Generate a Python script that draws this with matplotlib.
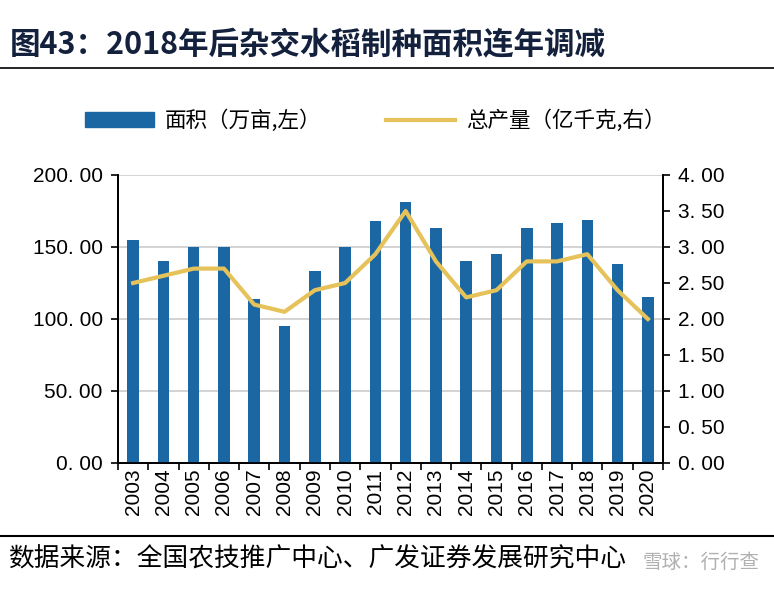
import numpy as np
import matplotlib
matplotlib.use("Agg")
from matplotlib import pyplot as plt
from matplotlib.lines import Line2D
from matplotlib.patches import Patch

plt.rcParams['font.family'] = ['Noto Sans CJK SC', 'DejaVu Sans']

years = ["2003", "2004", "2005", "2006", "2007", "2008", "2009", "2010", "2011",
         "2012", "2013", "2014", "2015", "2016", "2017", "2018", "2019", "2020"]
area = [155, 140, 150, 150, 114, 95, 133, 150, 168, 181, 163, 140, 145, 163, 167, 169, 138, 115]
output = [2.5, 2.6, 2.7, 2.7, 2.2, 2.1, 2.4, 2.5, 2.9, 3.5, 2.8, 2.3, 2.4, 2.8, 2.8, 2.9, 2.4, 2.0]
left_ticks = [0, 50, 100, 150, 200]
right_ticks = [0, 0.5, 1.0, 1.5, 2.0, 2.5, 3.0, 3.5, 4.0]

bar_color = '#1b67a3'
line_color = '#e5c25a'
num_font = ['Liberation Sans', 'DejaVu Sans']

def fmt(v):
    # 原图小数点后有较宽间隔
    return ("%.2f" % v).replace(".", ". ")

fig = plt.figure(figsize=(7.74, 5.9), dpi=100)
ax = fig.add_axes([118/774, 1 - 463/590, (663 - 118)/774, (463 - 175)/590])
ax2 = ax.twinx()

x = np.arange(len(years))
ax.bar(x, area, width=0.38, color=bar_color, zorder=3)
ax2.plot(x, output, color=line_color, lw=3, zorder=4)

ax.set_xlim(-0.5, len(years) - 0.5)
ax.set_ylim(0, 200)
ax2.set_ylim(0, 4)
ax.set_yticks(left_ticks)
ax.set_yticklabels([fmt(v) for v in left_ticks], fontsize=15, family=num_font)
ax2.set_yticks(right_ticks)
ax2.set_yticklabels([fmt(v) for v in right_ticks], fontsize=15, family=num_font)
ax.set_xticks(x)
ax.set_xticklabels(years, rotation=90, fontsize=15, family=num_font)
ax.set_xticks(np.arange(len(years) + 1) - 0.5, minor=True)
ax.tick_params(axis='x', which='major', length=0, pad=4)
ax.tick_params(axis='x', which='minor', length=5, width=1.2)
ax.tick_params(axis='y', length=5, width=1.2, pad=6)
ax2.tick_params(axis='y', length=5, width=1.2, pad=6)
ax.yaxis.grid(True, color='#cccccc', lw=1.2, zorder=0)
ax.set_axisbelow(True)
for a in (ax, ax2):
    a.spines['top'].set_visible(False)
    for s in ('left', 'right', 'bottom'):
        a.spines[s].set_linewidth(1.3)

# legend
handles = [Patch(color=bar_color), Line2D([], [], color=line_color, lw=3)]
fig.legend(handles, ["面积（万亩,左）", "总产量（亿千克,右）"], loc='center',
           bbox_to_anchor=(0.485, 1 - 121/590), ncol=2, frameon=False, fontsize=15.5,
           handlelength=3.2, handleheight=0.7, columnspacing=3.0, handletextpad=0.5)

# title and rules
fig.text(10/774, 1 - 45/590, "图43：2018年后杂交水稻制种面积连年调减", fontsize=22,
         fontweight='bold', color='#14213d', va='center')
fig.add_artist(Line2D([0, 1], [1 - 68/590, 1 - 68/590], color='black', lw=1.2))
fig.add_artist(Line2D([0, 1], [1 - 536/590, 1 - 536/590], color='black', lw=1.5))
fig.text(8/774, 1 - 560/590, "数据来源：全国农技推广中心、广发证券发展研究中心", fontsize=18.5,
         color='black', va='center')
fig.text(760/774, 1 - 562/590, "雪球：行行查", fontsize=14, color='#b0b0b0',
         va='center', ha='right')

fig.savefig("out.png", dpi=100)
